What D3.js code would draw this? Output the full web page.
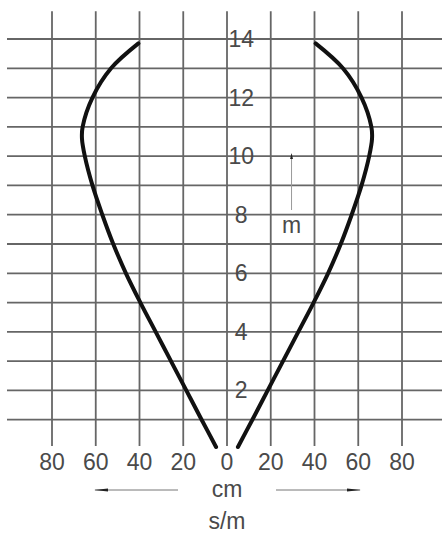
<!DOCTYPE html>
<html>
<head>
<meta charset="utf-8">
<script src="https://cdn.jsdelivr.net/npm/d3@7"></script>
<style>
  body { margin: 0; background: #fff; }
  svg text { font-family: "Liberation Sans", Arial, sans-serif; fill: #4a4a4a; }
</style>
</head>
<body>
<div id="chart"></div>
<script>
// data: distance (m) vs half width of the zone (cm)
const distances = [0.07, 1, 2, 3, 4, 5, 6, 7, 8, 9, 10, 10.6, 11, 12, 13, 13.85];
const halfWidths = [5, 11.6, 18.6, 25.6, 32.6, 39.6, 46.2, 52, 57, 61.5, 65, 66.3, 66, 61.5, 53, 40.5];

const xTicks = [-80, -60, -40, -20, 0, 20, 40, 60, 80];
const yTicks = [2, 4, 6, 8, 10, 12, 14];
const yGrid = d3.range(1, 15);

const width = 444,
    height = 534;

const x = d3.scaleLinear().domain([-80, 80]).range([52, 402]);
const y = d3.scaleLinear().domain([0, 14]).range([449, 39]);

let svg = d3.select("#chart").append("svg")
    .attr("width", width)
    .attr("height", height);

let defs = svg.append("defs");
defs.append("marker")
    .attr("id", "head")
    .attr("viewBox", "0 0 14 4")
    .attr("refX", 13)
    .attr("refY", 2)
    .attr("markerWidth", 14)
    .attr("markerHeight", 4)
    .attr("markerUnits", "userSpaceOnUse")
    .attr("orient", "auto")
  .append("path")
    .attr("d", "M0,0.6 L14,2 L0,3.4 Z")
    .attr("fill", "#222");

defs.append("marker")
    .attr("id", "smallhead")
    .attr("viewBox", "0 0 6 3")
    .attr("refX", 5)
    .attr("refY", 1.5)
    .attr("markerWidth", 6)
    .attr("markerHeight", 3)
    .attr("markerUnits", "userSpaceOnUse")
    .attr("orient", "auto")
  .append("path")
    .attr("d", "M0,0 L6,1.5 L0,3 Z")
    .attr("fill", "#222");

//grid
let grid = svg.append("g").attr("stroke", "#666").attr("stroke-width", 1.8);

grid.selectAll(".h")
    .data(yGrid)
  .enter()
    .append("line")
    .attr("x1", 7)
    .attr("x2", 442)
    .attr("y1", d => y(d))
    .attr("y2", d => y(d));

grid.selectAll(".v")
    .data(xTicks)
  .enter()
    .append("line")
    .attr("x1", d => x(d))
    .attr("x2", d => x(d))
    .attr("y1", y(14.95))
    .attr("y2", y(0.1));

//labels
svg.selectAll(".ylab")
    .data(yTicks)
  .enter()
    .append("text")
    .attr("x", x(6.5))
    .attr("y", d => y(d) + 8)
    .attr("text-anchor", "middle")
    .style("font-size", "23px")
    .text(d => d);

svg.selectAll(".xlab")
    .data(xTicks)
  .enter()
    .append("text")
    .attr("x", d => x(d))
    .attr("y", 470)
    .attr("text-anchor", "middle")
    .style("font-size", "23px")
    .text(d => Math.abs(d));

svg.append("text")
    .attr("x", x(0))
    .attr("y", 497)
    .attr("text-anchor", "middle")
    .style("font-size", "23px")
    .text("cm");

svg.append("text")
    .attr("x", x(0))
    .attr("y", 529)
    .attr("text-anchor", "middle")
    .style("font-size", "23px")
    .text("s/m");

//cm arrows
svg.append("line")
    .attr("x1", 178).attr("x2", 95)
    .attr("y1", 490).attr("y2", 490)
    .attr("stroke", "#777").attr("stroke-width", 1)
    .attr("marker-end", "url(#head)");

svg.append("line")
    .attr("x1", 276).attr("x2", 360)
    .attr("y1", 490).attr("y2", 490)
    .attr("stroke", "#777").attr("stroke-width", 1)
    .attr("marker-end", "url(#head)");

//m arrow
svg.append("line")
    .attr("x1", x(29.5)).attr("x2", x(29.5))
    .attr("y1", 210).attr("y2", 154)
    .attr("stroke", "#999").attr("stroke-width", 1)
    .attr("marker-end", "url(#smallhead)");

svg.append("text")
    .attr("x", x(29.5))
    .attr("y", 233)
    .attr("text-anchor", "middle")
    .style("font-size", "23px")
    .text("m");

//zone curves
let pts = distances.map((d, i) => ({ d: d, w: halfWidths[i] }));

let line = d3.line().curve(d3.curveCatmullRom.alpha(0.5));

[-1, 1].forEach(function(side) {
  svg.append("path")
    .attr("d", line(pts.map(p => [x(side * p.w), y(p.d)])))
    .attr("fill", "none")
    .attr("stroke", "#111")
    .attr("stroke-width", 4)
    .attr("stroke-linecap", "round");
});
</script>
</body>
</html>
